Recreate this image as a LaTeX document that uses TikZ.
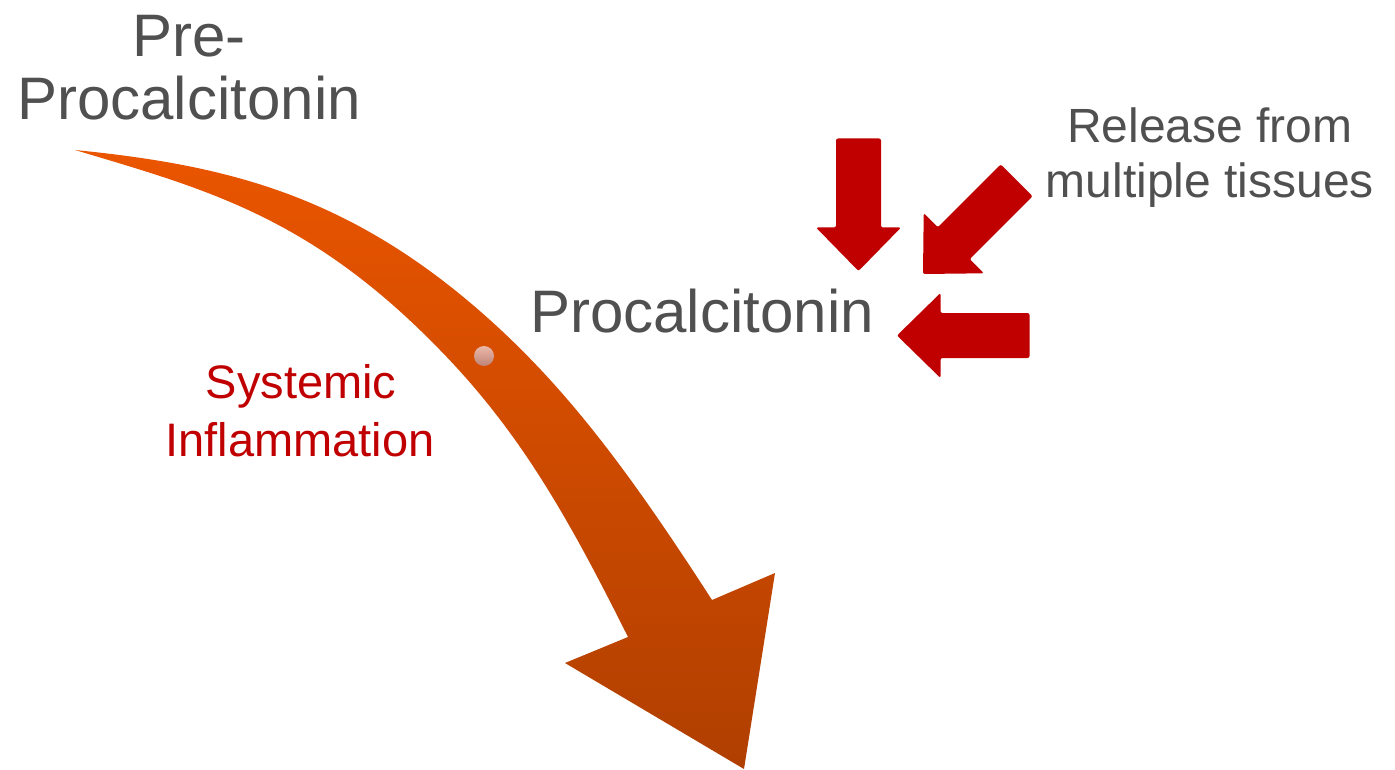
\documentclass[tikz,border=0pt]{standalone}
\usepackage{fontspec}
\setmainfont{Liberation Sans}
\definecolor{txtgray}{HTML}{505050}
\definecolor{arrred}{HTML}{C00000}
\definecolor{orgtop}{HTML}{EA5500}
\definecolor{orgbot}{HTML}{B03F00}
\definecolor{dottop}{HTML}{ECB8A8}
\definecolor{dotbot}{HTML}{BC8478}
\begin{document}
\begin{tikzpicture}[x=1pt,y=-1pt,
  bigtxt/.style={font=\fontsize{60}{63}\selectfont, text=txtgray, inner sep=0pt, anchor=base},
  midtxt/.style={font=\fontsize{48}{56}\selectfont, text=txtgray, inner sep=0pt, anchor=base},
  redtxt/.style={font=\fontsize{47}{56}\selectfont, text=arrred, inner sep=0pt, anchor=base},
  redarrow/.style={fill=arrred, rounded corners=2pt},
  bigarrow/.style={top color=orgtop, bottom color=orgbot},
  dotstyle/.style={top color=dottop, bottom color=dotbot}]
\useasboundingbox (0,0) rectangle (1395,770);
\fill[white] (0,0) rectangle (1395,770);

% curved orange arrow
\shade[bigarrow]
  (75,150) .. controls (225,165) and (350,194) .. (490,320)
  .. controls (570,392) and (632,476) .. (712,600)
  -- (775,573) -- (744,769) -- (565,663) -- (628,637)
  .. controls (568,517) and (520,432) .. (440,350)
  .. controls (310,216) and (205,189) .. (75,150)
  -- cycle;
\shade[dotstyle] (484,356) circle (10pt);

% red arrows
\fill[redarrow, shift={(858.5,271)}, rotate=-90]
  (0,0) -- (-43.5,42.5) -- (-43.5,22.5) -- (-132.5,22.5) -- (-132.5,-22.5) -- (-43.5,-22.5) -- (-43.5,-42.5) -- cycle;
\fill[redarrow, shift={(923,274)}, rotate=-135]
  (0,0) -- (-43.5,42.5) -- (-43.5,22.5) -- (-132.5,22.5) -- (-132.5,-22.5) -- (-43.5,-22.5) -- (-43.5,-42.5) -- cycle;
\fill[redarrow, shift={(897,335.5)}, rotate=180]
  (0,0) -- (-43.5,42.5) -- (-43.5,22.5) -- (-132.5,22.5) -- (-132.5,-22.5) -- (-43.5,-22.5) -- (-43.5,-42.5) -- cycle;

% texts
\node[bigtxt] (pre1) at (189,57) {Pre-};
\node[bigtxt] (pre2) at (189,120) {Procalcitonin};
\node[bigtxt] (pct) at (702,332) {Procalcitonin};
\node[midtxt] (rel1) at (1210,143) {Release from};
\node[midtxt] (rel2) at (1210,198) {multiple tissues};
\node[redtxt] (sys1) at (301,398) {Systemic};
\node[redtxt] (sys2) at (300,456) {Inflammation};
\end{tikzpicture}
\end{document}
